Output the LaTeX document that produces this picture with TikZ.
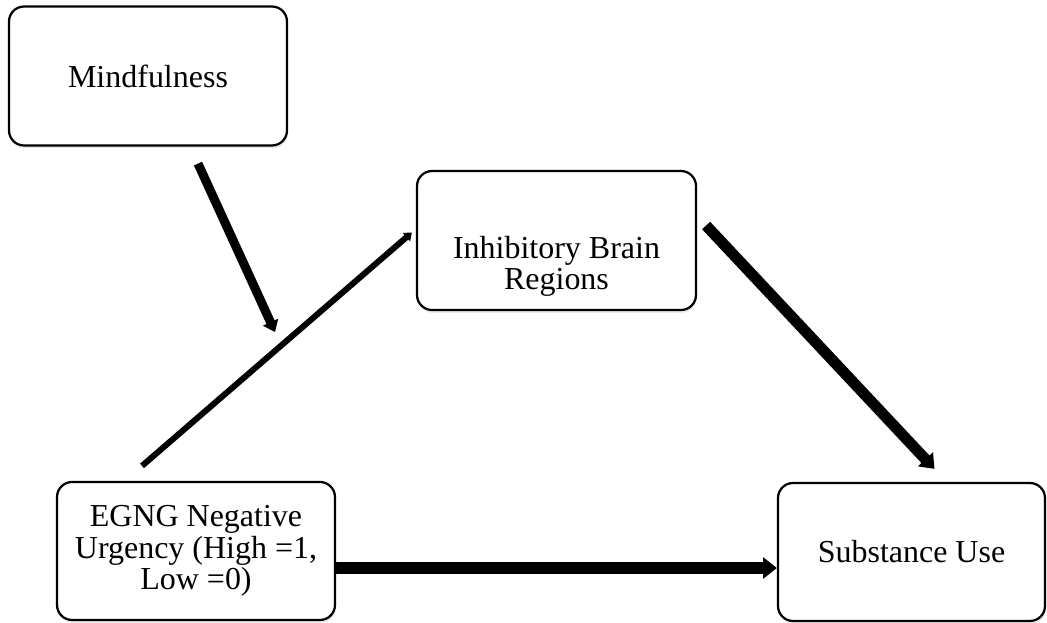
\documentclass[tikz,border=0pt]{standalone}
\usepackage{fontspec}
\setmainfont{Liberation Serif}
\usetikzlibrary{arrows.meta,shadows}
\tikzset{%
  >={Triangle[length=0pt 1.2,width=0pt 1.8]},
            base/.style = {rectangle, rounded corners=0.3cm, draw=black,
                           line width=0.045cm,
                           minimum width=5.56cm, minimum height=2.78cm,
                           text centered, font=\fontsize{18.2}{17.8}\selectfont},
  box0/.style = {base, fill=white, align=center,
                 drop shadow={opacity=0.15, shadow xshift=0.02cm, shadow yshift=-0.06cm}},
   txt/.style = {inner sep=0pt, align=center, font=\fontsize{18.2}{18}\selectfont},
  link/.style = {->, draw=black},
}

\begin{document}
\begin{tikzpicture}[x=0.02cm, y=-0.02cm]
  \useasboundingbox (0,0) rectangle (1047,622);

  \node (mind)   [box0]                                     at (148,76)    {Mindfulness};
  \node (inhib)  [box0, minimum width=5.58cm]               at (556.5,240.5) {};
  \node (inhibT) [txt]  at ([shift={(0,26)}]inhib.center)                  {Inhibitory Brain\\Regions};
  \node (egng)   [box0, minimum height=2.76cm]              at (196,551)   {EGNG Negative\\Urgency (High =1,\\Low =0)};
  \node (subst)  [box0, minimum width=5.34cm, minimum height=2.76cm] at (911.5,552) {Substance Use};

  \coordinate (modpt) at (275,332);

  \draw[link, line width=0.18cm] ([shift={(50,17)}]mind.south)   -- (modpt);
  \draw[link, line width=0.12cm] ([shift={(-54,-15)}]egng.north) -- ([shift={(-4,-8)}]inhib.west);
  \draw[link, line width=0.22cm] ([shift={(9,-15)}]inhib.east)   -- ([shift={(23,-13)}]subst.north);
  \draw[link, line width=0.23cm] ([shift={(0,17)}]egng.east)     -- ([shift={(0,16)}]subst.west);
\end{tikzpicture}
\end{document}
